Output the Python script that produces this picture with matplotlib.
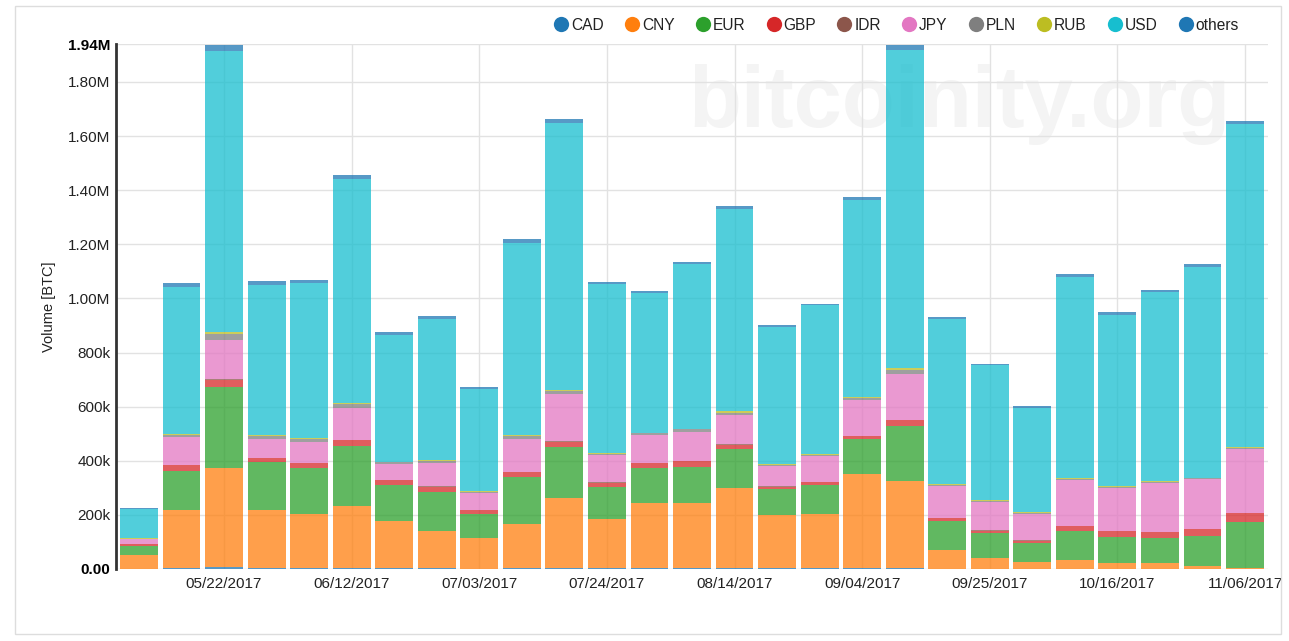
import numpy as np
import matplotlib
matplotlib.use("Agg")
import matplotlib.pyplot as plt
from matplotlib.lines import Line2D
from matplotlib.patches import Rectangle

plt.rcParams['font.family'] = ['Liberation Sans', 'DejaVu Sans']

# weekly buckets
weeks = ['05/08/2017', '05/15/2017', '05/22/2017', '05/29/2017', '06/05/2017', '06/12/2017',
         '06/19/2017', '06/26/2017', '07/03/2017', '07/10/2017', '07/17/2017', '07/24/2017',
         '07/31/2017', '08/07/2017', '08/14/2017', '08/21/2017', '08/28/2017', '09/04/2017',
         '09/11/2017', '09/18/2017', '09/25/2017', '10/02/2017', '10/09/2017', '10/16/2017',
         '10/23/2017', '10/30/2017', '11/06/2017']

# volumes in thousands of BTC
cad = [0, 3, 9, 3, 3, 4, 2, 2, 1, 4, 4, 2, 2, 2, 3, 2, 2, 3, 4, 1, 1, 1, 1, 1, 1, 1, 1]
cny = [50, 215, 364, 214, 199, 229, 174, 137, 112, 161, 257, 181, 242, 242, 295, 197, 200, 348,
       320, 69, 40, 24, 32, 22, 21, 10, 3]
eur = [36, 145, 300, 177, 171, 220, 135, 147, 90, 175, 191, 120, 130, 134, 144, 95, 109, 128,
       206, 106, 93, 72, 109, 95, 92, 112, 171]
gbp = [5, 22, 25, 17, 17, 23, 18, 18, 15, 18, 19, 16, 16, 20, 18, 10, 11, 12, 20, 12, 8, 8, 17,
       21, 23, 23, 31]
idr = [0, 1, 5, 1, 1, 1, 1, 1, 1, 1, 1, 1, 1, 1, 1, 1, 1, 1, 1, 1, 1, 1, 1, 1, 1, 1, 1]
jpy = [20, 100, 145, 69, 79, 117, 58, 85, 63, 121, 174, 101, 103, 109, 108, 77, 95, 134, 171,
       117, 103, 97, 169, 158, 178, 184, 235]
pln = [1, 9, 22, 9, 10, 16, 6, 8, 4, 10, 12, 5, 7, 8, 9, 3, 4, 5, 13, 5, 5, 4, 5, 6, 5, 5, 6]
rub = [2, 3, 4, 4, 4, 5, 2, 3, 2, 4, 4, 2, 2, 3, 5, 4, 3, 3, 6, 4, 3, 2, 3, 2, 3, 2, 4]
usd = [107, 544, 1040, 557, 571, 825, 469, 524, 377, 712, 986, 624, 517, 607, 747, 507, 549, 731,
       1175, 607, 498, 387, 741, 633, 700, 778, 1194]
others = [3, 13, 23, 12, 12, 16, 9, 9, 6, 14, 15, 8, 9, 9, 10, 6, 7, 9, 19, 10, 6, 5, 11, 10, 7,
          10, 11]

names = ['CAD', 'CNY', 'EUR', 'GBP', 'IDR', 'JPY', 'PLN', 'RUB', 'USD', 'others']
colors = ['#1f77b4', '#ff7f0e', '#2ca02c', '#d62728', '#8c564b', '#e377c2', '#7f7f7f',
          '#bcbd22', '#17becf', '#1f77b4']
data = [cad, cny, eur, gbp, idr, jpy, pln, rub, usd, others]

W, H = 1289, 641
fig = plt.figure(figsize=(W / 100, H / 100), dpi=100)
ax = fig.add_axes([116 / W, 1 - 569 / H, (1268 - 116) / W, (569 - 44) / H])

x = np.arange(len(weeks))
bottom = np.zeros(len(weeks))
for name, vals, col in zip(names, data, colors):
    v = np.array(vals, dtype=float) * 1000
    ax.bar(x, v, width=0.89, bottom=bottom, color=col, alpha=0.75, linewidth=0, zorder=2)
    bottom += v

ax.set_xlim(-0.54, len(weeks) - 0.46)
ax.set_ylim(0, 1.94e6)

yt = [0, 2e5, 4e5, 6e5, 8e5, 1e6, 1.2e6, 1.4e6, 1.6e6, 1.8e6, 1.94e6]
ytl = ['0.00', '200k', '400k', '600k', '800k', '1.00M', '1.20M', '1.40M', '1.60M', '1.80M', '1.94M']
ax.set_yticks(yt, ytl)
for i, lab in enumerate(ax.get_yticklabels()):
    lab.set_fontsize(11)
    lab.set_color('#222222')
    if i in (0, len(yt) - 1):
        lab.set_fontweight('bold')
        lab.set_color('black')

xt = x[2::3]
ax.set_xticks(xt, [weeks[i] for i in xt])
for lab in ax.get_xticklabels():
    lab.set_fontsize(11)
    lab.set_color('#222222')

ax.tick_params(length=0)
ax.tick_params(axis='y', pad=4)
ax.tick_params(axis='x', pad=6)
ax.grid(True, color='#e2e2e2', linewidth=1)
ax.set_axisbelow(True)

for s in ('top', 'right', 'bottom'):
    ax.spines[s].set_visible(False)
ax.spines['left'].set_color('#333333')
ax.spines['left'].set_linewidth(2)

ax.set_ylabel('Volume [BTC]', fontsize=10.5, color='#222222')
ax.yaxis.set_label_coords((56 - 116) / 1152, 0.5)

# watermark
ax.text(688 / W, 1 - 127 / H, 'bitcoinity.org', transform=fig.transFigure, fontsize=62.5,
        fontweight='bold', color='#f4f4f4', ha='left', va='baseline', zorder=0.1)

# legend
handles = [Line2D([], [], marker='o', linestyle='none', markersize=11, color=c,
                  markeredgewidth=0) for c in colors]
fig.legend(handles, names, ncol=10, loc='center right',
           bbox_to_anchor=(1239 / W, 1 - 25 / H), frameon=False, fontsize=11.2,
           labelcolor='#222222', handletextpad=0.15, columnspacing=1.3, handlelength=1.0,
           borderaxespad=0, borderpad=0)

# outer frame
fig.add_artist(Rectangle((15 / W, 1 - 634 / H), (1281 - 15) / W, (634 - 6) / H,
                         transform=fig.transFigure, fill=False, edgecolor='#dddddd',
                         linewidth=1))

fig.savefig('out.png', dpi=100)
